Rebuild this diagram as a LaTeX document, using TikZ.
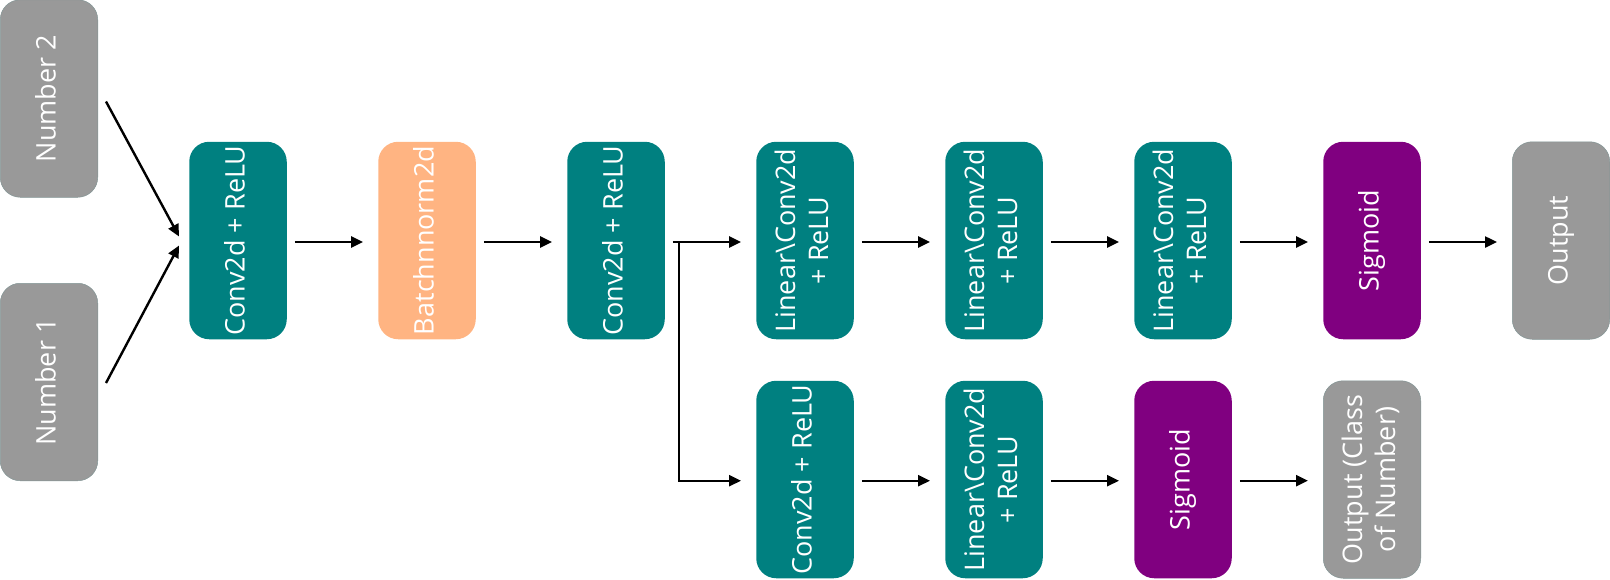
\documentclass[tikz,border=0pt]{standalone}
\usepackage{fontspec}
\setmainfont{Open Sans}
\usetikzlibrary{arrows.meta}
\definecolor{tealc}{RGB}{0,128,128}
\definecolor{purplec}{RGB}{128,0,128}
\definecolor{grayc}{RGB}{153,153,153}
\definecolor{orangec}{RGB}{255,180,130}
\newcommand{\vtext}[1]{\rotatebox{90}{\fontsize{27}{33}\selectfont\begin{tabular}{@{}c@{}}#1\end{tabular}}}
\tikzset{
  blk/.style={rounded corners=20pt, minimum width=97.5pt, minimum height=197.5pt, inner sep=0pt, text=white},
  tealbox/.style={blk, fill=tealc},
  purplebox/.style={blk, fill=purplec},
  graybox/.style={blk, fill=grayc, draw=tealc!15!grayc, line width=0.5pt},
  orangebox/.style={blk, fill=orangec},
  arr/.style={line width=2.4pt, -{Triangle[length=12pt,width=11pt]}}
}
\begin{document}
\begin{tikzpicture}[x=1pt,y=-1pt]
\useasboundingbox (0,0) rectangle (1610,579);
% top row
\node[graybox] (n2) at (49,98.5) {\vtext{Number 2}};
\node[graybox] (n1) at (49,382) {\vtext{Number 1}};
\node[tealbox] (c1) at (238,240.5) {\vtext{Conv2d + ReLU}};
\node[orangebox] (bn) at (427,240.5) {\vtext{Batchnnorm2d}};
\node[tealbox] (c2) at (616,240.5) {\vtext{Conv2d + ReLU}};
\node[tealbox] (l1) at (805,240.5) {\vtext{Linear\textbackslash Conv2d\\+ ReLU}};
\node[tealbox] (l2) at (994,240.5) {\vtext{Linear\textbackslash Conv2d\\+ ReLU}};
\node[tealbox] (l3) at (1183,240.5) {\vtext{Linear\textbackslash Conv2d\\+ ReLU}};
\node[purplebox] (s1) at (1372,240.5) {\vtext{Sigmoid}};
\node[graybox] (o1) at (1561,240.5) {\vtext{Output}};
% bottom row
\node[tealbox] (b1) at (805,479.5) {\vtext{Conv2d + ReLU}};
\node[tealbox] (b2) at (994,479.5) {\vtext{Linear\textbackslash Conv2d\\+ ReLU}};
\node[purplebox] (s2) at (1183,479.5) {\vtext{Sigmoid}};
\node[graybox] (o2) at (1372,479.5) {\vtext{Output (Class\\of Number)}};
% input arrows
\draw[arr] ([xshift=8pt,yshift=-3pt]n2.east) -- ([xshift=-10pt,yshift=4pt]c1.west);
\draw[arr] ([xshift=8pt,yshift=-1pt]n1.east) -- ([xshift=-10pt,yshift=-5pt]c1.west);
% top chain
\foreach \a/\b in {c1/bn, bn/c2, c2/l1, l1/l2, l2/l3, l3/s1, s1/o1}{
  \draw[arr] ([xshift=8pt,yshift=-1.5pt]\a.east) -- ([xshift=-15pt,yshift=-1.5pt]\b.west);
}
% branch
\coordinate (br) at ([xshift=14pt,yshift=-1.5pt]c2.east);
\draw[arr] (br) |- ([xshift=-15pt,yshift=-1.2pt]b1.west);
% bottom chain
\foreach \a/\b in {b1/b2, b2/s2, s2/o2}{
  \draw[arr] ([xshift=8pt,yshift=-1.2pt]\a.east) -- ([xshift=-15pt,yshift=-1.2pt]\b.west);
}
\end{tikzpicture}
\end{document}
